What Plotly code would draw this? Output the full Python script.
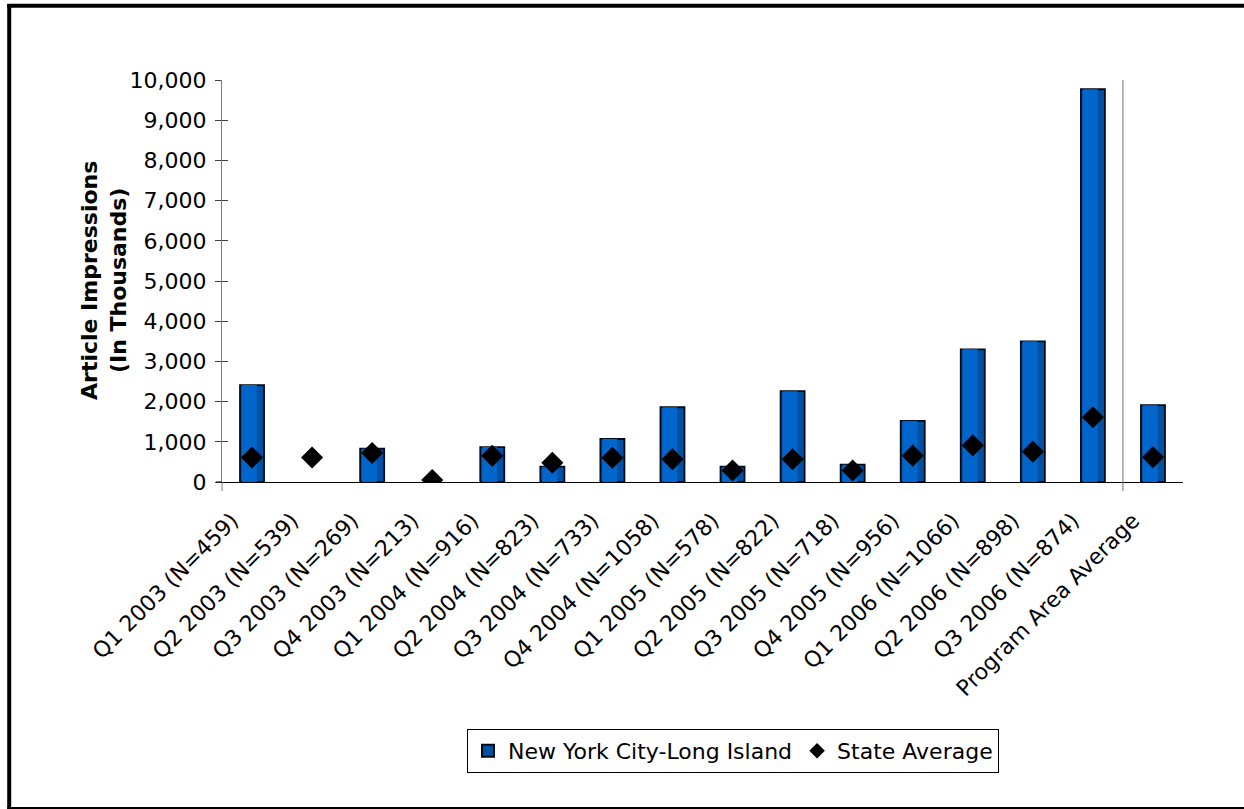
import plotly.graph_objects as go

categories = [
    "Q1 2003 (N=459)", "Q2 2003 (N=539)", "Q3 2003 (N=269)", "Q4 2003 (N=213)",
    "Q1 2004 (N=916)", "Q2 2004 (N=823)", "Q3 2004 (N=733)", "Q4 2004 (N=1058)",
    "Q1 2005 (N=578)", "Q2 2005 (N=822)", "Q3 2005 (N=718)", "Q4 2005 (N=956)",
    "Q1 2006 (N=1066)", "Q2 2006 (N=898)", "Q3 2006 (N=874)", "Program Area Average",
]
nyc_li = [2410, None, 830, None, 870, 380, 1070, 1860, 380, 2260, 430, 1520, 3300, 3500, 9770, 1910]
state_avg = [610, 610, 720, 50, 650, 480, 605, 565, 285, 565, 285, 655, 910, 755, 1610, 615]
y_ticks = [0, 1000, 2000, 3000, 4000, 5000, 6000, 7000, 8000, 9000, 10000]

FONT = "DejaVu Sans"
W, H = 1244, 809
L, R, T, B = 222, 61, 80, 327
pw, ph = W - L - R, H - T - B

def px_x(x):
    return (x - L) / pw

def px_y(y):
    return (H - B - y) / ph

fig = go.Figure()
fig.add_trace(go.Bar(
    x=categories, y=nyc_li, name="New York City-Long Island",
    width=0.4, offset=-0.2,
    marker=dict(color="#0050A4", line=dict(color="#000A1A", width=1.8)),
))
fig.add_trace(go.Bar(
    x=categories, y=nyc_li, showlegend=False, hoverinfo="skip",
    width=0.25, offset=-0.17,
    marker=dict(color="#0066CC", line=dict(width=0)),
))
fig.add_trace(go.Scatter(
    x=categories, y=state_avg, name="State Average", mode="markers",
    marker=dict(symbol="diamond", size=17, color="black"),
))

fig.update_layout(
    width=W, height=H, barmode="overlay",
    margin=dict(l=L, r=R, t=T, b=B, autoexpand=False),
    paper_bgcolor="white", plot_bgcolor="white",
    font=dict(family=FONT, size=22, color="black"),
    showlegend=True,
    legend=dict(
        orientation="h", xref="container", yref="container",
        x=467 / W, y=1 - 729 / H, xanchor="left", yanchor="top",
        bordercolor="black", borderwidth=1, font=dict(size=22),
        itemsizing="constant", itemwidth=30, traceorder="normal",
    ),
    xaxis=dict(
        type="category", tickangle=-45, showline=True, linecolor="black", linewidth=1,
        ticks="", showgrid=False, tickfont=dict(size=22), range=[-0.5, 15.5],
        ticklabelshift=-20, ticklabelstandoff=16,
    ),
    yaxis=dict(
        range=[0, 10000], tickvals=y_ticks, tickformat=",d", showline=True,
        linecolor="#808080", linewidth=1, ticks="outside", ticklen=6, tickcolor="#404040",
        showgrid=False, zeroline=False, tickfont=dict(size=22), ticklabelstandoff=4,
    ),
    yaxis2=dict(
        range=[0, 10000], tickvals=y_ticks, overlaying="y", side="left",
        showticklabels=False, ticks="inside", ticklen=6, tickcolor="#404040",
        showgrid=False, zeroline=False, showline=False,
    ),
)
fig.add_trace(go.Scatter(x=[categories[0]], y=[None], yaxis="y2", showlegend=False, hoverinfo="skip"))

shapes = [
    dict(type="line", xref="paper", yref="paper", x0=0, x1=0, y0=0, y1=px_y(491),
         line=dict(color="#808080", width=1)),
    dict(type="line", xref="paper", yref="paper", x0=px_x(216), x1=0, y0=0, y1=0,
         line=dict(color="black", width=1)),
    dict(type="line", xref="x", yref="paper", x0=14.5, x1=14.5, y0=1, y1=px_y(491),
         line=dict(color="#707070", width=1)),
    dict(type="line", xref="paper", yref="paper", x0=px_x(9.2), x1=px_x(9.2),
         y0=px_y(4), y1=px_y(809), line=dict(color="black", width=4)),
    dict(type="line", xref="paper", yref="paper", x0=px_x(7.3), x1=px_x(1260),
         y0=px_y(5.8), y1=px_y(5.8), line=dict(color="black", width=4)),
    dict(type="line", xref="paper", yref="paper", x0=px_x(7.3), x1=px_x(1260),
         y0=px_y(808), y1=px_y(808), line=dict(color="black", width=2)),
]
fig.update_layout(shapes=shapes)

fig.add_annotation(
    text="<b>Article Impressions<br>(In Thousands)</b>", textangle=-90,
    xref="paper", yref="paper", x=px_x(104), y=px_y(281),
    xanchor="center", yanchor="middle", showarrow=False,
    font=dict(size=22, family=FONT, color="black"),
)

fig.write_html(
    "out.html",
    config={"displayModeBar": False},
    post_script="document.body.style.margin='0';document.body.style.overflow='hidden';",
)
